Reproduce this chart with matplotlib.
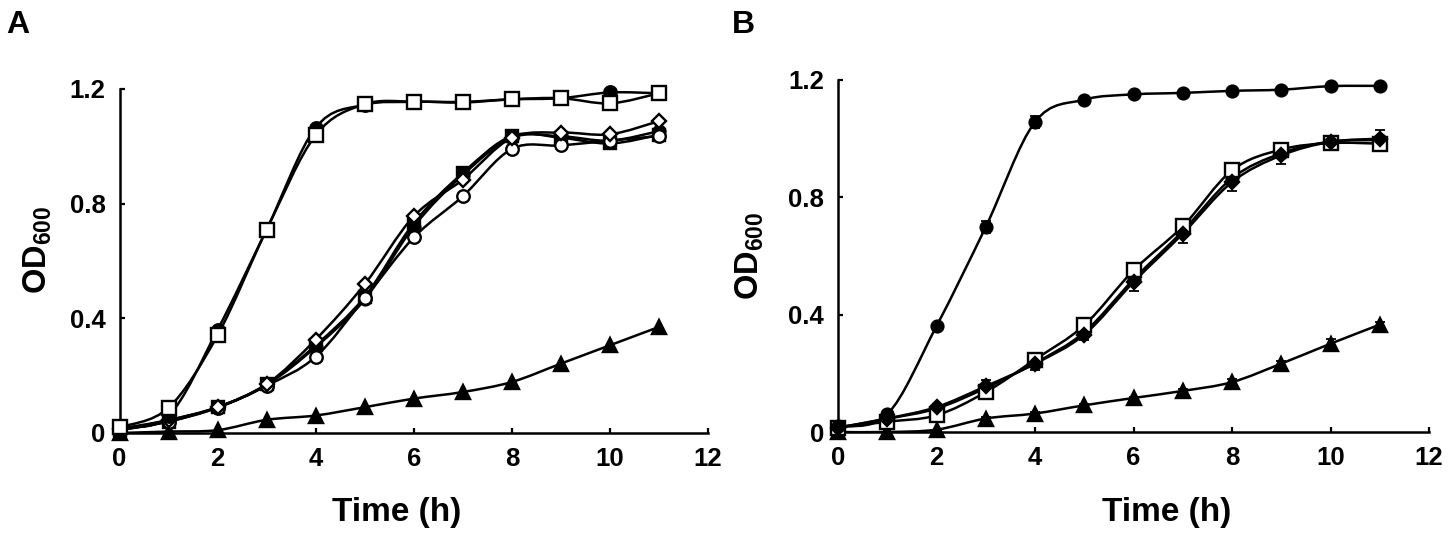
import matplotlib
matplotlib.use("Agg")
import matplotlib.pyplot as plt
import numpy as np
from matplotlib.path import Path
from matplotlib.patches import PathPatch

plt.rcParams['font.family'] = ['Liberation Sans', 'DejaVu Sans']
plt.rcParams['font.weight'] = 'bold'
plt.rcParams['mathtext.fontset'] = 'custom'
plt.rcParams['mathtext.rm'] = 'Liberation Sans:bold'
plt.rcParams['mathtext.bf'] = 'Liberation Sans:bold'
plt.rcParams['mathtext.it'] = 'Liberation Sans:bold'

# ---------------- data ----------------
time_h = [0, 1, 2, 3, 4, 5, 6, 7, 8, 9, 10, 11]
x_ticks = [0, 2, 4, 6, 8, 10, 12]
y_ticks = [0, 0.4, 0.8, 1.2]
y_tick_labels = ["0", "0.4", "0.8", "1.2"]

# Panel A
a_fast_filled_circle = [0.02, 0.06, 0.36, 0.71, 1.065, 1.145, 1.155, 1.155, 1.164, 1.168, 1.188, 1.185]
a_fast_open_square = [0.02, 0.088, 0.341, 0.709, 1.039, 1.147, 1.156, 1.153, 1.164, 1.168, 1.150, 1.185]
a_mid_filled_circle = [0.01, 0.045, 0.09, 0.168, 0.300, 0.466, 0.720, 0.900, 1.030, 1.035, 1.020, 1.053]
a_mid_filled_square = [0.01, 0.040, 0.09, 0.170, 0.306, 0.475, 0.732, 0.907, 1.036, 1.030, 1.010, 1.040]
a_mid_open_circle = [0.01, 0.040, 0.088, 0.165, 0.266, 0.470, 0.682, 0.826, 0.991, 1.003, 1.020, 1.036]
a_mid_open_diamond = [0.015, 0.045, 0.09, 0.170, 0.326, 0.519, 0.756, 0.884, 1.030, 1.048, 1.042, 1.088]
a_slow_triangle = [0.0, 0.005, 0.01, 0.046, 0.061, 0.090, 0.120, 0.143, 0.178, 0.242, 0.306, 0.370]

# Panel B
b_fast_filled_circle = [0.019, 0.06, 0.361, 0.699, 1.057, 1.133, 1.151, 1.156, 1.163, 1.167, 1.179, 1.180]
b_fast_err = [0.005, 0.01, 0.01, 0.02, 0.02, 0.01, 0.01, 0.01, 0.01, 0.01, 0.01, 0.01]
b_mid_filled_circle = [0.015, 0.045, 0.080, 0.150, 0.235, 0.340, 0.520, 0.685, 0.865, 0.950, 0.990, 0.995]
b_mid_filled_diamond = [0.015, 0.046, 0.085, 0.156, 0.233, 0.332, 0.511, 0.676, 0.852, 0.943, 0.989, 1.000]
b_mid_err = [0.005, 0.01, 0.01, 0.02, 0.02, 0.02, 0.03, 0.03, 0.03, 0.03, 0.02, 0.03]
b_mid_open_square = [0.015, 0.035, 0.057, 0.136, 0.247, 0.364, 0.551, 0.701, 0.892, 0.963, 0.985, 0.983]
b_slow_triangle = [0.0, 0.0, 0.008, 0.046, 0.063, 0.091, 0.116, 0.140, 0.170, 0.233, 0.301, 0.366]
b_slow_err = [0, 0, 0, 0.005, 0.005, 0.005, 0.005, 0.005, 0.01, 0.01, 0.015, 0.01]


def smooth_line(ax, x, y, lw=1.8):
    """Draw an Excel-like smoothed line through the data points."""
    P = np.column_stack([x, y]).astype(float)
    n = len(P)
    verts = [tuple(P[0])]
    codes = [Path.MOVETO]
    for i in range(n - 1):
        ip = i - 1 if i > 0 else i
        inn = i + 2 if i + 2 < n else i + 1
        c1 = P[i] + (P[i + 1] - P[ip]) / 6.0
        c2 = P[i + 1] - (P[inn] - P[i]) / 6.0
        verts += [tuple(c1), tuple(c2), tuple(P[i + 1])]
        codes += [Path.CURVE4] * 3
    patch = PathPatch(Path(verts, codes), fill=False, edgecolor='black',
                      lw=lw, zorder=2, capstyle='round', joinstyle='round')
    ax.add_patch(patch)


def series(ax, x, y, marker, face, size, err=None):
    smooth_line(ax, x, y)
    if err is not None:
        ax.errorbar(x, y, yerr=err, fmt='none', ecolor='black', elinewidth=1.3,
                    capsize=3.5, capthick=1.3, zorder=3, clip_on=False)
    ax.plot(x, y, linestyle='none', marker=marker, markersize=size,
            markerfacecolor=face, markeredgecolor='black', markeredgewidth=1.7,
            zorder=4, clip_on=False)


def style_axes(ax):
    ax.set_xlim(0, 12)
    ax.set_ylim(0, 1.2)
    ax.set_xticks(x_ticks)
    ax.set_xticklabels([str(t) for t in x_ticks])
    ax.set_yticks(y_ticks)
    ax.set_yticklabels(y_tick_labels)
    for s in ['top', 'right']:
        ax.spines[s].set_visible(False)
    for s in ['left', 'bottom']:
        ax.spines[s].set_linewidth(1.8)
    ax.tick_params(direction='in', length=3.5, width=1.6, labelsize=18.5, pad=10)
    for lab in ax.get_xticklabels() + ax.get_yticklabels():
        lab.set_fontweight('bold')


fig = plt.figure(figsize=(14.5, 5.39), dpi=100)
W, H = 1450.0, 539.0

axA = fig.add_axes([119.5 / W, (H - 433) / H, (708 - 119.5) / W, (433 - 89) / H])
axB = fig.add_axes([838 / W, (H - 432) / H, (1429 - 838) / W, (432 - 80) / H])

# Panel A
series(axA, time_h, a_slow_triangle, '^', 'black', 9.5)
series(axA, time_h, a_mid_filled_circle, 'o', 'black', 8.5)
series(axA, time_h, a_mid_filled_square, 's', 'black', 8.5)
series(axA, time_h, a_mid_open_circle, 'o', 'white', 9)
series(axA, time_h, a_mid_open_diamond, 'D', 'white', 7.2)
series(axA, time_h, a_fast_filled_circle, 'o', 'black', 9)
series(axA, time_h, a_fast_open_square, 's', 'white', 9.5)
style_axes(axA)

# Panel B
series(axB, time_h, b_slow_triangle, '^', 'black', 9.5, err=b_slow_err)
series(axB, time_h, b_mid_filled_circle, 'o', 'black', 8.5)
series(axB, time_h, b_mid_open_square, 's', 'white', 9.5)
series(axB, time_h, b_mid_filled_diamond, 'D', 'black', 7.2, err=b_mid_err)
series(axB, time_h, b_fast_filled_circle, 'o', 'black', 8.5, err=b_fast_err)
style_axes(axB)

# Labels
fig.text(6 / W, 1 - 33 / H, 'A', fontsize=23, fontweight='bold', ha='left', va='baseline')
fig.text(732 / W, 1 - 33 / H, 'B', fontsize=23, fontweight='bold', ha='left', va='baseline')

fig.text(38 / W, 1 - 250 / H, r'$\mathbf{OD}_{\mathbf{600}}$', fontsize=23.5, rotation=90,
         ha='center', va='center')
fig.text(750 / W, 1 - 256 / H, r'$\mathbf{OD}_{\mathbf{600}}$', fontsize=23.5, rotation=90,
         ha='center', va='center')

fig.text(397 / W, 1 - 512 / H, 'Time (h)', fontsize=24, fontweight='bold', ha='center', va='center')
fig.text(1167 / W, 1 - 512 / H, 'Time (h)', fontsize=24, fontweight='bold', ha='center', va='center')

fig.savefig('out.png', dpi=100, facecolor='white')
